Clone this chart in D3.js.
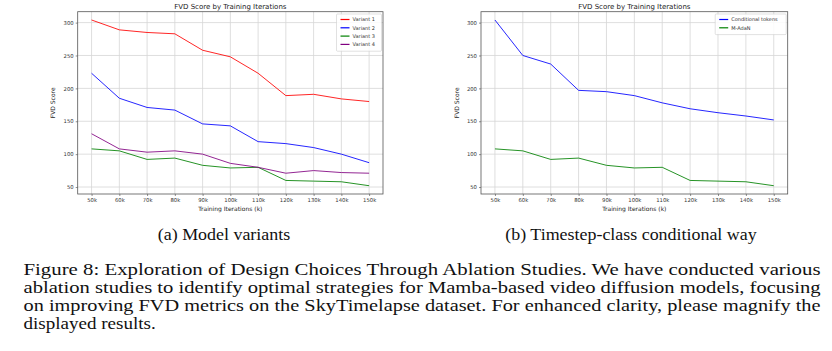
<!DOCTYPE html>
<html>
<head>
<meta charset="utf-8">
<script src="https://cdn.jsdelivr.net/npm/d3@7"></script>
<style>
  body { margin: 0; background: #fff; }
  svg { display: block; }
</style>
</head>
<body>
<svg width="832" height="351"></svg>
<script>
// training iterations (k)
const iterations = [50, 60, 70, 80, 90, 100, 110, 120, 130, 140, 150];
const yTicks = [50, 100, 150, 200, 250, 300];

// (a) model variants
const variant1 = [304, 289, 285, 283, 258, 248, 223, 189, 191, 184, 180];
const variant2 = [223, 185, 171, 167, 146, 143, 119, 116, 110, 100, 87];
const variant3 = [108, 105, 92, 94, 83, 79, 80, 60, 59, 58, 52];
const variant4 = [131, 108, 103, 105, 100, 86, 80, 71, 75, 72, 71];

// (b) timestep-class conditional way
const condTokens = [304, 250, 237, 197, 195, 189, 178, 169, 163, 158, 152];
const mAdaN = [108, 105, 92, 94, 83, 79, 80, 60, 59, 58, 52];

const svg = d3.select('svg');

function drawChart(opts) {
    const { left, right, top, bottom, series } = opts;
    const g = svg.append('g');

    const allVals = series.flatMap(s => s.values);
    const [yMin, yMax] = d3.extent(allVals);
    const yPad = (yMax - yMin) * 0.05;
    const xPad = (d3.max(iterations) - d3.min(iterations)) * 0.05;

    const x = d3.scaleLinear()
        .domain([d3.min(iterations) - xPad, d3.max(iterations) + xPad])
        .range([left, right]);
    const y = d3.scaleLinear()
        .domain([yMin - yPad, yMax + yPad])
        .range([bottom, top]);

    // grid
    g.append('g')
        .selectAll('line')
        .data(iterations)
        .join('line')
        .attr('x1', d => x(d)).attr('x2', d => x(d))
        .attr('y1', top).attr('y2', bottom)
        .attr('stroke', '#d6d6d6').attr('stroke-width', 0.8);
    g.append('g')
        .selectAll('line')
        .data(yTicks)
        .join('line')
        .attr('x1', left).attr('x2', right)
        .attr('y1', d => y(d)).attr('y2', d => y(d))
        .attr('stroke', '#d6d6d6').attr('stroke-width', 0.8);

    // axes
    const xAxis = g.append('g')
        .attr('transform', `translate(0,${bottom})`)
        .call(d3.axisBottom(x).tickValues(iterations).tickFormat(d => d + 'k').tickSize(2).tickPadding(2));
    const yAxis = g.append('g')
        .attr('transform', `translate(${left},0)`)
        .call(d3.axisLeft(y).tickValues(yTicks).tickSize(2).tickPadding(2));
    [xAxis, yAxis].forEach(a => {
        a.select('.domain').remove();
        a.selectAll('line').attr('stroke', '#444').attr('stroke-width', 0.6);
        a.selectAll('text')
            .attr('fill', '#333')
            .style('font-family', 'DejaVu Sans')
            .style('font-size', '5.3px');
    });

    // frame
    g.append('rect')
        .attr('x', left).attr('y', top)
        .attr('width', right - left).attr('height', bottom - top)
        .attr('fill', 'none').attr('stroke', '#555').attr('stroke-width', 0.8);

    // lines
    const line = d3.line()
        .x((d, i) => x(iterations[i]))
        .y(d => y(d));
    g.append('g')
        .selectAll('path')
        .data(series)
        .join('path')
        .attr('d', d => line(d.values))
        .attr('fill', 'none')
        .attr('stroke', d => d.color)
        .attr('stroke-width', 1)
        .attr('stroke-opacity', 0.85);

    // title and labels
    g.append('text')
        .text('FVD Score by Training Iterations')
        .attr('x', (left + right) / 2).attr('y', top - 3)
        .attr('text-anchor', 'middle')
        .style('font-family', 'DejaVu Sans').style('font-size', '7px')
        .attr('fill', '#222');
    g.append('text')
        .text('Training Iterations (k)')
        .attr('x', (left + right) / 2).attr('y', bottom + 17)
        .attr('text-anchor', 'middle')
        .style('font-family', 'DejaVu Sans').style('font-size', '6px')
        .attr('fill', '#222');
    g.append('text')
        .text('FVD Score')
        .attr('transform', `translate(${opts.ylabelX},${(top + bottom) / 2}) rotate(-90)`)
        .attr('text-anchor', 'middle')
        .style('font-family', 'DejaVu Sans').style('font-size', '6px')
        .attr('fill', '#222');

    // legend
    const lg = g.append('g')
        .attr('transform', `translate(${right - opts.legendW - 1.5},${top + 2.3})`);
    lg.append('rect')
        .attr('width', opts.legendW).attr('height', 4 + series.length * 8.3)
        .attr('fill', '#fff').attr('fill-opacity', 0.85)
        .attr('stroke', '#ccc').attr('stroke-width', 0.6).attr('rx', 1);
    series.forEach((s, i) => {
        const yy = 5.5 + i * 8.3;
        lg.append('rect')
            .attr('x', 4).attr('y', yy - 0.6)
            .attr('width', 9).attr('height', 1.2)
            .style('fill', s.color);
        lg.append('text')
            .text(s.name)
            .attr('x', 16).attr('y', yy + 1.8)
            .style('font-family', 'DejaVu Sans').style('font-size', '5px')
            .attr('fill', '#333');
    });
}

drawChart({
    left: 77.7, right: 383, top: 11.7, bottom: 194, ylabelX: 55, legendW: 45,
    series: [
        { name: 'Variant 1', values: variant1, color: 'red' },
        { name: 'Variant 2', values: variant2, color: 'blue' },
        { name: 'Variant 3', values: variant3, color: 'green' },
        { name: 'Variant 4', values: variant4, color: 'purple' },
    ]
});

drawChart({
    left: 481, right: 787.7, top: 11.7, bottom: 194, ylabelX: 459, legendW: 71,
    series: [
        { name: 'Conditional tokens', values: condTokens, color: 'blue' },
        { name: 'M-AdaN', values: mAdaN, color: 'green' },
    ]
});

// captions
const serif = '"Liberation Serif", "Times New Roman", serif';
const subs = svg.append('g')
    .selectAll('text')
    .data([['(a) Model variants', 224], ['(b) Timestep-class conditional way', 631]])
    .join('text')
    .text(d => d[0])
    .attr('x', d => d[1]).attr('y', 240).attr('text-anchor', 'middle')
    .style('font-family', serif).style('font-size', '16px')
    .attr('fill', '#111');
subs.each(function () {
    const w = this.getComputedTextLength();
    d3.select(this).attr('textLength', w * 1.12).attr('lengthAdjust', 'spacingAndGlyphs');
});

const captionLines = [
    'Figure 8: Exploration of Design Choices Through Ablation Studies.  We have conducted various',
    'ablation studies to identify optimal strategies for Mamba-based video diffusion models, focusing',
    'on improving FVD metrics on the SkyTimelapse dataset. For enhanced clarity, please magnify the',
    'displayed results.'
];
const cap = svg.append('g')
    .selectAll('text')
    .data(captionLines)
    .join('text')
    .text(d => d)
    .attr('x', 23.5)
    .attr('y', (d, i) => 275 + i * 18)
    .style('font-family', serif)
    .style('font-size', '17px')
    .attr('fill', '#111');
cap.each(function (d, i) {
    const w = this.getComputedTextLength();
    d3.select(this)
        .attr('textLength', i < 3 ? 797 : w * 1.12)
        .attr('lengthAdjust', 'spacingAndGlyphs');
});
</script>
</body>
</html>
